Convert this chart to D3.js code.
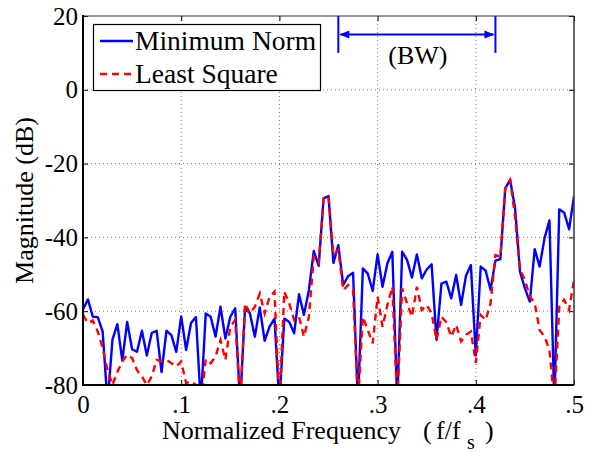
<!DOCTYPE html>
<html lang="en">
<head>
<meta charset="UTF-8">
<title>Magnitude response</title>
<script src="https://cdn.jsdelivr.net/npm/d3@7"></script>
<style>
html,body {margin:0;padding:0;background:#fff;}
svg {display:block;}
text {font-family:"Liberation Serif","Times New Roman",serif;fill:#000;}
.grid line {stroke:#777;stroke-width:1;stroke-dasharray:1,3;}
.axis text {font-size:25px;}
.axis line {stroke:#000;stroke-width:1;}
</style>
</head>
<body>
<div id="chart"></div>
<script>
// step between frequency samples (f/fs)
const freqStep = 0.005;

// magnitude in dB (drops below -80 are clipped)
const minNormDb = [
	-59.5, -56.8, -61.5, -61.6, -65.5, -85, -67.7, -63.5, -73.4, -62.9,
	-70.3, -71, -65.3, -72, -65.9, -65.3, -76.5, -65.3, -66.5, -71,
	-61.4, -70.5, -63.2, -61.6, -85, -60.6, -61.5, -66.9, -58.8, -67.4,
	-61.5, -59.2, -85, -59.2, -60.6, -66.9, -59, -68, -64.2, -62,
	-85, -62, -62.9, -66, -55.4, -61, -54.3, -43.7, -47.7, -29.4,
	-28.8, -46.9, -42.1, -52.9, -50.5, -49.6, -85, -48.4, -49.8, -54.5,
	-44.6, -53.4, -47, -43.9, -85, -43.9, -46.1, -50.9, -44.6, -51.1,
	-48.7, -47.3, -67.8, -52.5, -52, -56.5, -50.2, -58.3, -50.4, -47.5,
	-72, -47.9, -49, -54.2, -46.3, -45.9, -26.7, -24.4, -32.1, -49.3,
	-53.8, -57.4, -43.2, -47.9, -40.2, -35.4, -85, -32.4, -33.3, -37.8,
	-28.8
];
const leastSqDb = [
	-61, -63.2, -62.5, -65.5, -70, -76, -80, -76.4, -73.6, -71.8,
	-72.7, -76, -77.7, -80, -77.7, -73.2, -73.6, -73.2, -74.1, -75,
	-73.6, -79.5, -79, -80, -85, -73, -74.1, -72.3, -67.8, -73.2,
	-64.2, -62.4, -85, -57.9, -60.6, -58.8, -55.2, -60.6, -56.1, -54.7,
	-85, -54.7, -57.9, -62.4, -61.5, -66.9, -61.5, -45.2, -47, -29.4,
	-28.8, -44.8, -43.4, -54.3, -52.9, -54.3, -85, -61.5, -65.1, -68.7,
	-56.1, -64.2, -58.3, -53.4, -85, -53.8, -57.9, -61.5, -53.4, -59.7,
	-58.3, -60.6, -67.8, -61.5, -63, -66.9, -63.7, -68.2, -66.4, -65.5,
	-74, -61, -62.4, -57.9, -44.8, -45.2, -26.7, -24.4, -34.4, -48.8,
	-51.5, -56, -57.9, -65.1, -66.9, -70.5, -85, -58.8, -56.9, -59.7,
	-51.5
];

const xTicks = [0, 0.1, 0.2, 0.3, 0.4, 0.5];
const yTicks = [20, 0, -20, -40, -60, -80];
const seriesNames = ["Minimum Norm", "Least Square"];
const bwEdges = [0.26, 0.42];
const bwLabel = "(BW)";

const W = 591, H = 453;
const pL = 83, pR = 574, pT = 16, pB = 385;

const x = d3.scaleLinear().domain([0, 0.5]).range([pL, pR]);
const y = d3.scaleLinear().domain([-80, 20]).range([pB, pT]);

const svg = d3.select('#chart').append('svg')
	.attr('width', W)
	.attr('height', H);

svg.append('defs').append('clipPath').attr('id', 'plotClip')
	.append('rect')
	.attr('x', pL).attr('y', pT)
	.attr('width', pR - pL).attr('height', pB - pT);

// grid
const grid = svg.append('g').attr('class', 'grid');
grid.selectAll('.gx').data(xTicks.slice(1, -1)).enter().append('line')
	.attr('x1', d => x(d)).attr('x2', d => x(d))
	.attr('y1', pT).attr('y2', pB);
grid.selectAll('.gy').data(yTicks.slice(1, -1)).enter().append('line')
	.attr('x1', pL).attr('x2', pR)
	.attr('y1', d => y(d)).attr('y2', d => y(d));

// axes, ticks pointing inward
const fmtX = d => d === 0 ? '0' : d3.format('.1f')(d).replace('0.', '.');
const fmtY = d => String(d);

const gx = svg.append('g').attr('class', 'axis')
	.attr('transform', 'translate(0,' + pB + ')')
	.call(d3.axisBottom(x).tickValues(xTicks).tickSize(-5).tickPadding(10).tickFormat(fmtX));
const gxTop = svg.append('g').attr('class', 'axis')
	.attr('transform', 'translate(0,' + pT + ')')
	.call(d3.axisTop(x).tickValues(xTicks).tickSize(-5).tickFormat(''));
const gy = svg.append('g').attr('class', 'axis')
	.attr('transform', 'translate(' + pL + ',0)')
	.call(d3.axisLeft(y).tickValues(yTicks).tickSize(-5).tickPadding(5).tickFormat(fmtY));
const gyRight = svg.append('g').attr('class', 'axis')
	.attr('transform', 'translate(' + pR + ',0)')
	.call(d3.axisRight(y).tickValues(yTicks).tickSize(-5).tickFormat(''));
[gx, gxTop, gy, gyRight].forEach(g => g.select('.domain').remove());

// data lines
const line = d3.line()
	.x((d, i) => x(i * freqStep))
	.y(d => y(d));

const plot = svg.append('g').attr('clip-path', 'url(#plotClip)');
plot.append('path')
	.datum(minNormDb)
	.attr('fill', 'none')
	.attr('stroke', '#0000ff')
	.attr('stroke-width', 2.4)
	.attr('stroke-linejoin', 'round')
	.attr('d', line);
plot.append('path')
	.datum(leastSqDb)
	.attr('fill', 'none')
	.attr('stroke', '#ff0000')
	.attr('stroke-width', 2.4)
	.attr('stroke-dasharray', '7,5')
	.attr('d', line);

// frame
svg.append('line').attr('x1', pL).attr('x2', pR).attr('y1', pT).attr('y2', pT)
	.attr('stroke', '#333').attr('stroke-width', 1);
svg.append('line').attr('x1', pR).attr('x2', pR).attr('y1', pT).attr('y2', pB)
	.attr('stroke', '#333').attr('stroke-width', 1.5);
svg.append('line').attr('x1', pL).attr('x2', pL).attr('y1', pT - 1).attr('y2', pB + 1)
	.attr('stroke', '#000').attr('stroke-width', 2);
svg.append('line').attr('x1', pL - 1).attr('x2', pR).attr('y1', pB).attr('y2', pB)
	.attr('stroke', '#000').attr('stroke-width', 2);

// bandwidth marker
const bw = svg.append('g').attr('stroke', '#0000ff').attr('stroke-width', 2);
bwEdges.forEach(f => {
	bw.append('line')
		.attr('x1', x(f)).attr('x2', x(f))
		.attr('y1', y(20)).attr('y2', y(10));
});
const arrowY = y(15);
bw.append('line')
	.attr('x1', x(bwEdges[0]) + 2).attr('x2', x(bwEdges[1]) - 2)
	.attr('y1', arrowY).attr('y2', arrowY);
const ah = 10, aw = 4;
svg.append('path')
	.attr('fill', '#0000ff')
	.attr('d', 'M' + (x(bwEdges[0]) + 1) + ',' + arrowY + 'L' + (x(bwEdges[0]) + 1 + ah) + ',' + (arrowY - aw) + 'L' + (x(bwEdges[0]) + 1 + ah) + ',' + (arrowY + aw) + 'Z');
svg.append('path')
	.attr('fill', '#0000ff')
	.attr('d', 'M' + (x(bwEdges[1]) - 1) + ',' + arrowY + 'L' + (x(bwEdges[1]) - 1 - ah) + ',' + (arrowY - aw) + 'L' + (x(bwEdges[1]) - 1 - ah) + ',' + (arrowY + aw) + 'Z');
svg.append('text')
	.attr('x', x((bwEdges[0] + bwEdges[1]) / 2) + 1)
	.attr('y', y(7))
	.attr('text-anchor', 'middle')
	.attr('font-size', 26)
	.text(bwLabel);

// legend
const legend = svg.append('g');
legend.append('rect')
	.attr('x', 93.5).attr('y', 24.5)
	.attr('width', 227).attr('height', 66)
	.attr('fill', '#fff').attr('stroke', '#000').attr('stroke-width', 1.2);
const legendStyles = [
	{color: '#0000ff', dash: null},
	{color: '#ff0000', dash: '7,5'}
];
seriesNames.forEach((name, i) => {
	const ly = 41 + i * 33;
	legend.append('line')
		.attr('x1', 100).attr('x2', 133)
		.attr('y1', ly).attr('y2', ly)
		.attr('stroke', legendStyles[i].color)
		.attr('stroke-width', 2.4)
		.attr('stroke-dasharray', legendStyles[i].dash);
	legend.append('text')
		.attr('x', 135).attr('y', ly + 9)
		.attr('font-size', 27.5)
		.text(name);
});

// axis labels
const xl = svg.append('text')
	.attr('x', 162)
	.attr('y', 439)
	.attr('font-size', 26);
xl.append('tspan').text('Normalized Frequency');
xl.append('tspan').attr('x', 423).text('(');
xl.append('tspan').attr('x', 436).text('f/f');
xl.append('tspan').attr('x', 467).attr('font-size', 20).attr('dy', 10).text('s');
xl.append('tspan').attr('x', 485).attr('dy', -10).text(')');

svg.append('text')
	.attr('transform', 'translate(33,' + ((pT + pB) / 2) + ') rotate(-90)')
	.attr('text-anchor', 'middle')
	.attr('font-size', 26)
	.text('Magnitude (dB)');
</script>
</body>
</html>
